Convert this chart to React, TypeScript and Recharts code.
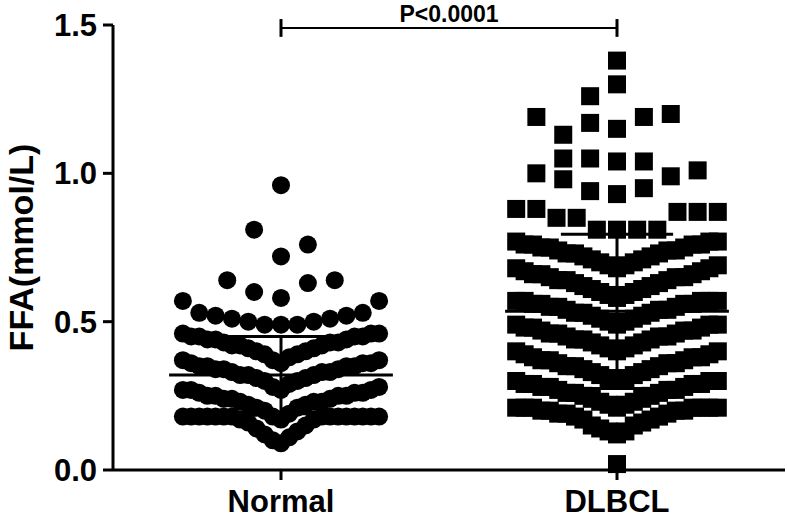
import { ScatterChart, Scatter, XAxis, YAxis, ReferenceLine } from "recharts";

const categories = ["Normal", "DLBCL"];
const yTicks = [0, 0.5, 1.0, 1.5];
const pValue = "P<0.0001";

// mean and SD
const normalMean = 0.32;
const normalSd = 0.13;
const dlbclMean = 0.535;
const dlbclSd = 0.26;

// Normal group, one row of the dot plot per array, listed from the centre outwards
const normalBandE = [0.09, 0.10, 0.11, 0.12, 0.13, 0.14, 0.15, 0.16, 0.17, 0.17, 0.18, 0.18, 0.18, 0.18, 0.18, 0.18, 0.18, 0.18, 0.18, 0.18, 0.18, 0.18, 0.18, 0.18, 0.18];
const normalBandD = [0.17, 0.18, 0.19, 0.20, 0.21, 0.21, 0.22, 0.22, 0.23, 0.23, 0.23, 0.24, 0.24, 0.24, 0.25, 0.25, 0.25, 0.25, 0.26, 0.26, 0.26, 0.27, 0.27, 0.27, 0.28];
const normalBandC = [0.27, 0.28, 0.29, 0.30, 0.30, 0.31, 0.31, 0.32, 0.32, 0.32, 0.33, 0.33, 0.33, 0.34, 0.34, 0.34, 0.35, 0.35, 0.35, 0.35, 0.36, 0.36, 0.36, 0.37, 0.37];
const normalBandB = [0.36, 0.37, 0.38, 0.39, 0.39, 0.40, 0.40, 0.41, 0.41, 0.42, 0.42, 0.42, 0.43, 0.43, 0.43, 0.44, 0.44, 0.44, 0.45, 0.45, 0.45, 0.45, 0.46, 0.46, 0.46];
const normalBandA = [0.49, 0.49, 0.49, 0.50, 0.50, 0.51, 0.51, 0.52, 0.52, 0.53, 0.53, 0.57, 0.57];
const normalHigh1 = [0.58, 0.60, 0.63, 0.64, 0.64];
const normalHigh2 = [0.72, 0.81, 0.76];
const normalHigh3 = [0.96];

// DLBCL group
const dlbclLow = [0.02];
const dlbclBand1 = [0.12, 0.13, 0.13, 0.14, 0.15, 0.15, 0.16, 0.17, 0.17, 0.18, 0.18, 0.19, 0.19, 0.19, 0.20, 0.20, 0.20, 0.20, 0.21, 0.21, 0.21, 0.21, 0.21, 0.21, 0.21];
const dlbclBand2 = [0.21, 0.22, 0.22, 0.23, 0.23, 0.24, 0.24, 0.25, 0.25, 0.26, 0.26, 0.26, 0.27, 0.27, 0.27, 0.28, 0.28, 0.28, 0.29, 0.29, 0.29, 0.29, 0.30, 0.30, 0.30];
const dlbclBand3 = [0.30, 0.31, 0.31, 0.32, 0.32, 0.33, 0.33, 0.34, 0.34, 0.35, 0.35, 0.35, 0.36, 0.36, 0.36, 0.37, 0.37, 0.37, 0.38, 0.38, 0.38, 0.39, 0.39, 0.40, 0.40];
const dlbclBand4 = [0.40, 0.41, 0.41, 0.42, 0.42, 0.43, 0.43, 0.44, 0.44, 0.44, 0.45, 0.45, 0.45, 0.46, 0.46, 0.46, 0.47, 0.47, 0.47, 0.48, 0.48, 0.48, 0.49, 0.49, 0.49];
const dlbclBand5 = [0.49, 0.50, 0.50, 0.51, 0.51, 0.52, 0.52, 0.53, 0.53, 0.53, 0.54, 0.54, 0.54, 0.55, 0.55, 0.55, 0.56, 0.56, 0.56, 0.56, 0.57, 0.57, 0.57, 0.57, 0.57];
const dlbclBand6 = [0.58, 0.59, 0.59, 0.60, 0.60, 0.61, 0.61, 0.62, 0.62, 0.63, 0.63, 0.64, 0.64, 0.64, 0.65, 0.65, 0.65, 0.66, 0.66, 0.66, 0.67, 0.67, 0.68, 0.68, 0.69];
const dlbclBand7 = [0.68, 0.69, 0.69, 0.70, 0.70, 0.71, 0.71, 0.72, 0.72, 0.73, 0.73, 0.73, 0.74, 0.74, 0.74, 0.75, 0.75, 0.75, 0.76, 0.76, 0.76, 0.76, 0.77, 0.77, 0.77];
const dlbclBand8 = [0.81, 0.81, 0.81, 0.85, 0.81, 0.85, 0.87, 0.88, 0.87, 0.88, 0.87];
const dlbclHigh1 = [0.93, 0.94, 0.95, 0.98, 0.99, 1.00, 1.01];
const dlbclHigh2 = [1.04, 1.05, 1.04, 1.05];
const dlbclHigh3 = [1.15, 1.17, 1.19, 1.13, 1.20, 1.19];
const dlbclHigh4 = [1.30, 1.26];
const dlbclHigh5 = [1.38];

const normalRows = [normalBandE, normalBandD, normalBandC, normalBandB, normalBandA, normalHigh1, normalHigh2, normalHigh3];
const dlbclRows = [dlbclLow, dlbclBand1, dlbclBand2, dlbclBand3, dlbclBand4, dlbclBand5, dlbclBand6, dlbclBand7, dlbclBand8, dlbclHigh1, dlbclHigh2, dlbclHigh3, dlbclHigh4, dlbclHigh5];

// spread each row sideways: centre, left, right, left, right...
const SPARSE_STEP = 0.08;
function swarm(rows: number[][], center: number, halfWidth: number) {
  const pts: { x: number; y: number }[] = [];
  rows.forEach((row) => {
    const slots = Math.ceil((row.length - 1) / 2) || 1;
    const step = Math.min(SPARSE_STEP, halfWidth / slots);
    row.forEach((v, i) => {
      const k = Math.ceil(i / 2);
      const side = i % 2 === 1 ? -1 : 1;
      pts.push({ x: center + side * k * step, y: v });
    });
  });
  return pts;
}

const normalData = swarm(normalRows, 1, 0.292);
const dlbclData = swarm(dlbclRows, 2, 0.3);

const font = "'Liberation Sans', Arial, Helvetica, sans-serif";
const tickStyle = { fontSize: 31, fontWeight: 700, fill: "#000", fontFamily: font };

const Circle = (p: any) => <circle cx={p.cx} cy={p.cy} r={9} fill="#000" />;
const Square = (p: any) => <rect x={p.cx - 9} y={p.cy - 9} width={18} height={18} fill="#000" />;

function errorBars(center: number, mean: number, sd: number, key: string) {
  const line = { stroke: "#000", strokeWidth: 3, ifOverflow: "visible" as const };
  return [
    <ReferenceLine key={key + "m"} {...line} segment={[{ x: center - 0.333, y: mean }, { x: center + 0.333, y: mean }]} />,
    <ReferenceLine key={key + "v"} {...line} segment={[{ x: center, y: mean - sd }, { x: center, y: mean + sd }]} />,
    <ReferenceLine key={key + "t"} {...line} segment={[{ x: center - 0.167, y: mean + sd }, { x: center + 0.167, y: mean + sd }]} />,
    <ReferenceLine key={key + "b"} {...line} segment={[{ x: center - 0.167, y: mean - sd }, { x: center + 0.167, y: mean - sd }]} />,
  ];
}

const bracketY = 1.49;

export default function App() {
  return (
    <div style={{ position: "absolute", left: 0, top: 0, background: "#fff" }}>
      <ScatterChart width={787} height={520} margin={{ top: 25, right: 2, bottom: 0, left: 0 }}>
        <XAxis
          type="number"
          dataKey="x"
          domain={[0.5, 2.5]}
          ticks={[1, 2]}
          tickFormatter={(v) => categories[Math.round(v) - 1]}
          height={50}
          tickSize={10}
          tickMargin={10}
          axisLine={{ stroke: "#000", strokeWidth: 3 }}
          tickLine={{ stroke: "#000", strokeWidth: 3 }}
          tick={tickStyle}
          allowDataOverflow
        />
        <YAxis
          type="number"
          dataKey="y"
          domain={[0, 1.5]}
          ticks={yTicks}
          tickFormatter={(v) => v.toFixed(1)}
          width={113}
          tickSize={10}
          tickMargin={6}
          axisLine={{ stroke: "#000", strokeWidth: 3 }}
          tickLine={{ stroke: "#000", strokeWidth: 3 }}
          tick={tickStyle}
          label={{
            content: (props: any) => {
              const vb = props.viewBox || { x: 0, y: 25, width: 113, height: 445 };
              const cx = vb.x + 21;
              const cy = vb.y + vb.height / 2;
              return (
                <text
                  x={cx}
                  y={cy}
                  transform={`rotate(-90 ${cx} ${cy})`}
                  textAnchor="middle"
                  dominantBaseline="central"
                  style={{ fontSize: 34, fontWeight: 700, fontFamily: font }}
                  fill="#000"
                >
                  FFA(mmol/L)
                </text>
              );
            },
          }}
        />
        <Scatter data={normalData} shape={Circle} isAnimationActive={false} />
        <Scatter data={dlbclData} shape={Square} isAnimationActive={false} />
        {errorBars(1, normalMean, normalSd, "n")}
        {errorBars(2, dlbclMean, dlbclSd, "d")}
        <ReferenceLine
          segment={[{ x: 1, y: bracketY }, { x: 2, y: bracketY }]}
          stroke="#000"
          strokeWidth={2}
          ifOverflow="visible"
          label={{ value: pValue, position: "top", offset: 6, style: { fontSize: 23, fontWeight: 700, fontFamily: font, fill: "#000" } }}
        />
        <ReferenceLine segment={[{ x: 1, y: bracketY - 0.03 }, { x: 1, y: bracketY + 0.03 }]} stroke="#000" strokeWidth={3} ifOverflow="visible" />
        <ReferenceLine segment={[{ x: 2, y: bracketY - 0.03 }, { x: 2, y: bracketY + 0.03 }]} stroke="#000" strokeWidth={3} ifOverflow="visible" />
      </ScatterChart>
    </div>
  );
}
